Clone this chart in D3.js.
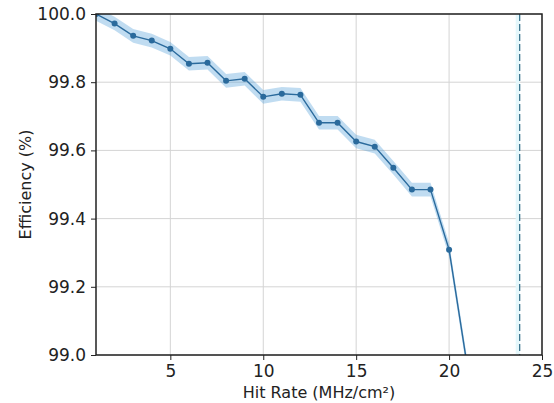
<!DOCTYPE html>
<html>
<head>
<meta charset="utf-8">
<script src="https://cdn.jsdelivr.net/npm/d3@7"></script>
<style>
  body { margin: 0; background: #fff; }
  text { font-family: "DejaVu Sans", sans-serif; fill: #222; }
</style>
</head>
<body>
<div id="chart"></div>
<script>
// data
const hitRate = [1, 2, 3, 4, 5, 6, 7, 8, 9, 10, 11, 12, 13, 14, 15, 16, 17, 18, 19, 20, 21];
const efficiency = [100.0, 99.972, 99.936, 99.922, 99.898, 99.854, 99.857, 99.804, 99.81, 99.757,
  99.766, 99.763, 99.681, 99.681, 99.626, 99.611, 99.549, 99.485, 99.485, 99.309, 98.96];
const effErr = [0.02, 0.02, 0.02, 0.02, 0.02, 0.02, 0.02, 0.02, 0.02, 0.02,
  0.02, 0.02, 0.02, 0.02, 0.02, 0.02, 0.02, 0.02, 0.02, 0.02, 0.02];
const xTicks = [5, 10, 15, 20, 25];
const yTicks = [99.0, 99.2, 99.4, 99.6, 99.8, 100.0];
const limitRate = 23.8;

const width = 554, height = 403;
const margin = { top: 14, right: 12, bottom: 48, left: 96 };
const iw = width - margin.left - margin.right;
const ih = height - margin.top - margin.bottom;

const data = hitRate.map((x, i) => ({ x: x, y: efficiency[i], e: effErr[i] }));

const svg = d3.select("#chart").append("svg")
  .attr("width", width)
  .attr("height", height);

svg.append("defs").append("clipPath")
  .attr("id", "clip")
  .append("rect")
  .attr("width", iw)
  .attr("height", ih);

const g = svg.append("g")
  .attr("transform", `translate(${margin.left},${margin.top})`);

const x = d3.scaleLinear().domain([1, 25]).range([0, iw]);
const y = d3.scaleLinear().domain([99.0, 100.0]).range([ih, 0]);

// grid
g.append("g").selectAll("line")
  .data(xTicks)
  .enter().append("line")
  .attr("x1", d => x(d)).attr("x2", d => x(d))
  .attr("y1", 0).attr("y2", ih)
  .attr("stroke", "#d4d4d4").attr("stroke-width", 1);

g.append("g").selectAll("line")
  .data(yTicks)
  .enter().append("line")
  .attr("x1", 0).attr("x2", iw)
  .attr("y1", d => y(d)).attr("y2", d => y(d))
  .attr("stroke", "#d4d4d4").attr("stroke-width", 1);

const plot = g.append("g").attr("clip-path", "url(#clip)");

// limit line
plot.append("rect")
  .attr("x", x(limitRate) - 4)
  .attr("y", 0)
  .attr("width", 4)
  .attr("height", ih)
  .attr("fill", "#e4f7fb");

plot.append("line")
  .attr("x1", x(limitRate)).attr("x2", x(limitRate))
  .attr("y1", 0).attr("y2", ih)
  .attr("stroke", "#2e6b86")
  .attr("stroke-width", 1.2)
  .attr("stroke-dasharray", "7,3");

// error band
const area = d3.area()
  .x(d => x(d.x))
  .y0(d => y(d.y - d.e))
  .y1(d => y(d.y + d.e));

plot.append("path")
  .datum(data)
  .attr("d", area)
  .attr("fill", "#4a9ad6")
  .attr("fill-opacity", 0.35);

const line = d3.line()
  .x(d => x(d.x))
  .y(d => y(d.y));

plot.append("path")
  .datum(data)
  .attr("d", line)
  .attr("fill", "none")
  .attr("stroke", "#2a6a9c")
  .attr("stroke-width", 1.4);

plot.selectAll(".dot")
  .data(data)
  .enter().append("circle")
  .attr("class", "dot")
  .attr("cx", d => x(d.x))
  .attr("cy", d => y(d.y))
  .attr("r", 3)
  .attr("fill", "#2a6a9c");

// axes
const xAxis = g.append("g")
  .attr("transform", `translate(0,${ih})`)
  .call(d3.axisBottom(x).tickValues(xTicks).tickSize(5).tickPadding(5));

const yAxis = g.append("g")
  .call(d3.axisLeft(y).tickValues(yTicks).tickFormat(d3.format(".1f")).tickSize(5).tickPadding(5));

[xAxis, yAxis].forEach(a => {
  a.select(".domain").remove();
  a.selectAll("text").style("font-size", "17px").style("font-family", "DejaVu Sans");
  a.selectAll("line").attr("stroke", "#222");
});

// frame
g.append("rect")
  .attr("width", iw)
  .attr("height", ih)
  .attr("fill", "none")
  .attr("stroke", "#222")
  .attr("stroke-width", 1.5);

// labels
svg.append("text")
  .attr("x", margin.left + iw / 2)
  .attr("y", 398)
  .attr("text-anchor", "middle")
  .style("font-size", "16px")
  .text("Hit Rate (MHz/cm²)");

svg.append("text")
  .attr("transform", `translate(31,${margin.top + ih / 2}) rotate(-90)`)
  .attr("text-anchor", "middle")
  .style("font-size", "16px")
  .text("Efficiency (%)");
</script>
</body>
</html>
